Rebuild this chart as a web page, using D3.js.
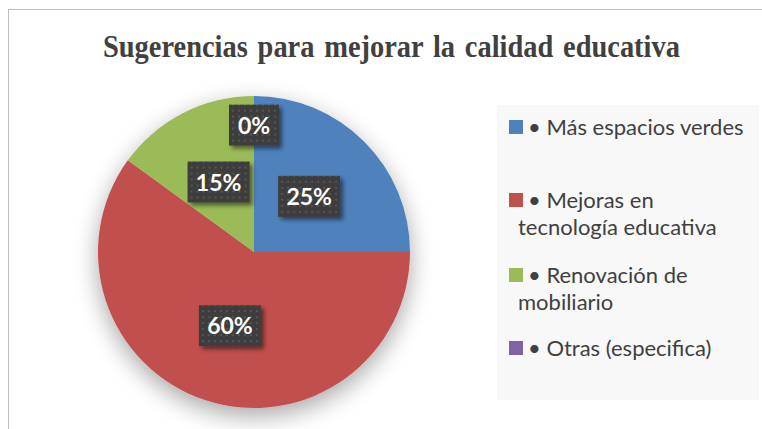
<!DOCTYPE html>
<html lang="es">
  <head>
    <meta charset="UTF-8" />
    <title>Sugerencias</title>
    <style>
      body { margin: 0; background: #fff; }
      .legend text { font-family: Lato, sans-serif; font-size: 22px; fill: #404040; }
      .lbl text { font-family: Lato, sans-serif; font-weight: bold; font-size: 23px; fill: #fff; }
    </style>
  </head>
  <body>
    <svg id="chart"></svg>
    <script src="https://cdnjs.cloudflare.com/ajax/libs/d3/7.4.4/d3.min.js"></script>
    <script>
      const W = 762, H = 429;
      const title = "Sugerencias para mejorar la calidad educativa";
      const categories = [
        ["• Más espacios verdes"],
        ["• Mejoras en", "tecnología educativa"],
        ["• Renovación de", "mobiliario"],
        ["• Otras (especifica)"]
      ];
      const values = [25, 60, 15, 0];
      const colors = ["#4f81bd", "#c0504d", "#9bbb59", "#8064a2"];

      const svg = d3.select("#chart").attr("width", W).attr("height", H);
      const defs = svg.append("defs");

      const sh = defs.append("filter").attr("id", "pieShadow")
        .attr("x", "-30%").attr("y", "-30%").attr("width", "160%").attr("height", "160%");
      sh.append("feGaussianBlur").attr("in", "SourceAlpha").attr("stdDeviation", 12);
      sh.append("feOffset").attr("dy", 8).attr("result", "b");
      sh.append("feComponentTransfer").append("feFuncA").attr("type", "linear").attr("slope", 0.35);
      const m1 = sh.append("feMerge");
      m1.append("feMergeNode");
      m1.append("feMergeNode").attr("in", "SourceGraphic");

      const bs = defs.append("filter").attr("id", "boxShadow")
        .attr("x", "-20%").attr("y", "-20%").attr("width", "150%").attr("height", "150%");
      bs.append("feGaussianBlur").attr("in", "SourceAlpha").attr("stdDeviation", 2);
      bs.append("feOffset").attr("dx", 3).attr("dy", 3);
      bs.append("feComponentTransfer").append("feFuncA").attr("type", "linear").attr("slope", 0.5);
      const m2 = bs.append("feMerge");
      m2.append("feMergeNode");
      m2.append("feMergeNode").attr("in", "SourceGraphic");

      const pat = defs.append("pattern").attr("id", "dots").attr("patternUnits", "userSpaceOnUse")
        .attr("width", 6).attr("height", 6);
      pat.append("rect").attr("width", 6).attr("height", 6).attr("fill", "#3d3d3d");
      pat.append("rect").attr("x", 2).attr("y", 2).attr("width", 2).attr("height", 2).attr("fill", "#555");

      // frame
      svg.append("rect").attr("x", 8.5).attr("y", 9.5).attr("width", W + 20).attr("height", H + 20)
        .attr("fill", "#fff").attr("stroke", "#bfbfbf");

      // title: narrow bold serif, squeezed horizontally to the reference width
      const tEl = svg.append("text").attr("x", 0).attr("y", 0)
        .attr("font-family", "Liberation Serif, serif").attr("font-weight", "bold")
        .attr("font-size", 32).attr("fill", "#404040").attr("word-spacing", 3)
        .text(title);
      const natural = tEl.node().getComputedTextLength();
      tEl.attr("transform", `translate(103,57) scale(${577 / natural},1)`);

      const cx = 254, cy = 252, r = 156;
      const pie = d3.pie().sort(null).value(d => d)(values);
      const arc = d3.arc().innerRadius(0).outerRadius(r);
      const lblArc = d3.arc().innerRadius(r * 0.5).outerRadius(r * 0.5);
      const zeroArc = d3.arc().innerRadius(r * 0.81).outerRadius(r * 0.81);

      const g = svg.append("g").attr("transform", `translate(${cx},${cy})`);
      g.append("g").attr("filter", "url(#pieShadow)")
        .selectAll("path").data(pie).join("path")
        .attr("d", arc).attr("fill", (d, i) => colors[i]);

      const lbls = g.selectAll(".lbl").data(pie).join("g").attr("class", "lbl")
        .attr("transform", d => `translate(${(d.value === 0 ? zeroArc : lblArc).centroid(d)})`);
      lbls.append("rect")
        .attr("x", d => d.value >= 10 ? -31 : -25).attr("y", -21)
        .attr("width", d => d.value >= 10 ? 62 : 50).attr("height", 41)
        .attr("fill", "url(#dots)").attr("filter", "url(#boxShadow)");
      lbls.append("text").attr("text-anchor", "middle").attr("dy", 8).text(d => d.value + "%");

      // legend
      const lg = svg.append("g").attr("class", "legend");
      lg.append("rect").attr("x", 497).attr("y", 105).attr("width", 262).attr("height", 295).attr("fill", "#f8f8f8");
      const rowY = [127, 200, 275, 348];
      const items = lg.selectAll(".item").data(categories).join("g").attr("class", "item")
        .attr("transform", (d, i) => `translate(509,${rowY[i]})`);
      items.append("rect").attr("x", 0).attr("y", -7).attr("width", 14).attr("height", 14)
        .attr("fill", (d, i) => colors[i]);
      items.each(function (d) {
        d3.select(this).selectAll("text").data(d).join("text")
          .attr("x", (t, j) => j === 0 ? 19 : 9).attr("y", (t, j) => 7.5 + j * 27.5).text(t => t);
      });
    </script>
  </body>
</html>
